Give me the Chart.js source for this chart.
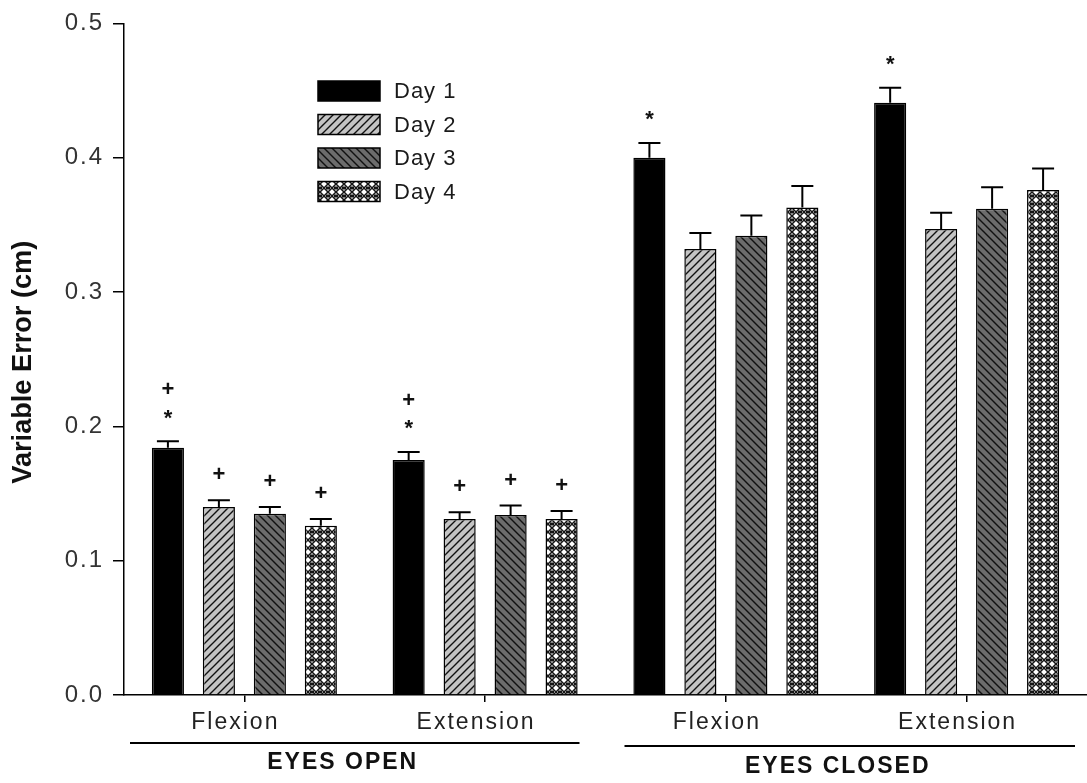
<!DOCTYPE html>
<html>
<head>
<meta charset="utf-8">
<script src="https://cdn.jsdelivr.net/npm/chart.js@4.4.1/dist/chart.umd.min.js"></script>
<style>
  html, body { margin: 0; padding: 0; background: #fff; }
  #wrap { width: 1087px; height: 783px; }
</style>
</head>
<body>
<div id="wrap"><canvas id="c" width="1087" height="783"></canvas></div>
<script>
// ---------------- data ----------------
const categories = ['Flexion', 'Extension', 'Flexion', 'Extension'];
const groupLabels = ['EYES OPEN', 'EYES CLOSED'];
const groupMembers = [[0, 1], [2, 3]];
const seriesNames = ['Day 1', 'Day 2', 'Day 3', 'Day 4'];
const day1 = [0.184, 0.175, 0.400, 0.441];
const day2 = [0.140, 0.131, 0.332, 0.347];
const day3 = [0.135, 0.134, 0.342, 0.362];
const day4 = [0.126, 0.131, 0.363, 0.376];
const err1 = [0.005, 0.006, 0.011, 0.011];
const err2 = [0.005, 0.005, 0.012, 0.012];
const err3 = [0.005, 0.007, 0.015, 0.016];
const err4 = [0.005, 0.006, 0.016, 0.016];
// significance marks above each bar, listed bottom to top
const marks1 = [['*', '+'], ['*', '+'], ['*'], ['*']];
const marks2 = [['+'], ['+'], [], []];
const marks3 = [['+'], ['+'], [], []];
const marks4 = [['+'], ['+'], [], []];
const yTitle = 'Variable Error (cm)';
const yMin = 0, yMax = 0.5, yStep = 0.1;

// ---------------- patterns ----------------
function makePattern(kind) {
  const s = 8;
  const c = document.createElement('canvas');
  c.width = s; c.height = s;
  const g = c.getContext('2d');
  if (kind === 'fwd') {
    g.fillStyle = '#c4c4c4'; g.fillRect(0, 0, s, s);
    g.strokeStyle = '#111'; g.lineWidth = 1.4;
    g.beginPath();
    g.moveTo(-1, s + 1); g.lineTo(s + 1, -1);
    g.moveTo(-1, 1); g.lineTo(1, -1);
    g.moveTo(s - 1, s + 1); g.lineTo(s + 1, s - 1);
    g.stroke();
  } else if (kind === 'back') {
    g.fillStyle = '#6c6c6c'; g.fillRect(0, 0, s, s);
    g.strokeStyle = '#111'; g.lineWidth = 1.4;
    g.beginPath();
    g.moveTo(-1, -1); g.lineTo(s + 1, s + 1);
    g.moveTo(s - 1, -1); g.lineTo(s + 1, 1);
    g.moveTo(-1, s - 1); g.lineTo(1, s + 1);
    g.stroke();
  } else {
    g.fillStyle = '#ffffff'; g.fillRect(0, 0, s, s);
    g.strokeStyle = '#151515'; g.lineWidth = 1.5;
    g.beginPath();
    g.moveTo(0, 0); g.lineTo(s, s);
    g.moveTo(s, 0); g.lineTo(0, s);
    g.stroke();
    g.fillStyle = '#151515';
    g.fillRect(0, s / 2 - 1.5, 2, 3);
    g.fillRect(s - 2, s / 2 - 1.5, 2, 3);
  }
  return document.createElement('canvas').getContext('2d').createPattern(c, 'repeat');
}

const fills = ['#000000', makePattern('fwd'), makePattern('back'), makePattern('check')];
const values = [day1, day2, day3, day4];
const errors = [err1, err2, err3, err4];
const marks = [marks1, marks2, marks3, marks4];

const FONT = "'Liberation Sans', Arial, sans-serif";

// ---------------- plugin ----------------
const decor = {
  id: 'decor',
  beforeDraw(chart) {
    chart.ctx.letterSpacing = '2px';
  },
  beforeDatasetsDraw(chart) {
    chart.ctx.letterSpacing = '0px';
  },
  afterDatasetsDraw(chart) {
    const ctx = chart.ctx;
    const y = chart.scales.y;
    ctx.save();
    ctx.letterSpacing = '0px';
    chart.data.datasets.forEach((ds, di) => {
      const meta = chart.getDatasetMeta(di);
      meta.data.forEach((bar, i) => {
        const top = y.getPixelForValue(ds.data[i]);
        const cap = y.getPixelForValue(ds.data[i] + errors[di][i]);
        ctx.strokeStyle = '#000';
        ctx.lineWidth = 2;
        ctx.beginPath();
        ctx.moveTo(bar.x, top);
        ctx.lineTo(bar.x, cap);
        ctx.moveTo(bar.x - 11, cap);
        ctx.lineTo(bar.x + 11, cap);
        ctx.stroke();
        ctx.fillStyle = '#111';
        ctx.font = 'bold 22px ' + FONT;
        ctx.textAlign = 'center';
        ctx.textBaseline = 'alphabetic';
        marks[di][i].forEach((m, k) => {
          const met = ctx.measureText(m);
          const cy = cap - 27 - 26 * k;
          const by = cy + (met.actualBoundingBoxAscent - met.actualBoundingBoxDescent) / 2;
          ctx.fillText(m, bar.x, by);
        });
      });
    });
    ctx.restore();
  },
  afterDraw(chart) {
    const ctx = chart.ctx;
    const x = chart.scales.x;
    const area = chart.chartArea;
    ctx.save();
    // legend
    const lx = 318, lw = 62, lh = 20, ly0 = 81, lstep = 33.5;
    chart.data.datasets.forEach((ds, di) => {
      const ty = ly0 + lstep * di;
      ctx.fillStyle = ds.backgroundColor;
      ctx.fillRect(lx, ty, lw, lh);
      ctx.strokeStyle = '#000';
      ctx.lineWidth = 1.5;
      ctx.strokeRect(lx, ty, lw, lh);
      ctx.fillStyle = '#1a1a1a';
      ctx.font = '22px ' + FONT;
      ctx.letterSpacing = '1px';
      ctx.textAlign = 'left';
      ctx.textBaseline = 'middle';
      ctx.fillText(ds.label, 394, ty + lh / 2 + 1);
    });
    // group labels
    const half = (x.getPixelForValue(1) - x.getPixelForValue(0)) / 2;
    const gLine = [{ a: 6, b: -26, ly: 743, ty: 763 }, { a: 19, b: -12, ly: 746, ty: 767 }];
    groupMembers.forEach((mem, gi) => {
      const left = x.getPixelForValue(mem[0]) - half + gLine[gi].a;
      const right = x.getPixelForValue(mem[mem.length - 1]) + half + gLine[gi].b;
      ctx.strokeStyle = '#000';
      ctx.lineWidth = 2;
      ctx.beginPath();
      ctx.moveTo(left, gLine[gi].ly);
      ctx.lineTo(right, gLine[gi].ly);
      ctx.stroke();
      ctx.fillStyle = '#111';
      ctx.font = 'bold 23px ' + FONT;
      ctx.letterSpacing = '2px';
      ctx.textAlign = 'center';
      ctx.textBaseline = 'middle';
      ctx.fillText(groupLabels[gi], (left + right) / 2 - 12, gLine[gi].ty);
    });
    // y title (condensed bold)
    ctx.letterSpacing = '0px';
    ctx.translate(23, (area.top + area.bottom) / 2 + 3);
    ctx.rotate(-Math.PI / 2);
    ctx.font = 'bold 28px ' + FONT;
    const w = ctx.measureText(yTitle).width;
    ctx.scale(243 / w, 1);
    ctx.fillStyle = '#111';
    ctx.textAlign = 'center';
    ctx.textBaseline = 'middle';
    ctx.fillText(yTitle, 0, 0);
    ctx.restore();
  }
};

// ---------------- chart ----------------
new Chart(document.getElementById('c'), {
  type: 'bar',
  data: {
    labels: categories,
    datasets: values.map((v, i) => ({
      label: seriesNames[i],
      data: v,
      backgroundColor: fills[i],
      borderColor: '#000',
      borderWidth: 1.5,
      categoryPercentage: 0.847,
      barPercentage: 0.63
    }))
  },
  options: {
    responsive: false,
    animation: false,
    events: [],
    layout: { padding: { top: 18, right: 0, left: 0, bottom: 0 } },
    plugins: { legend: { display: false }, tooltip: { enabled: false } },
    scales: {
      x: {
        offset: true,
        grid: { display: true, drawOnChartArea: false, offset: false, tickLength: 7, color: '#000', lineWidth: 1.5 },
        border: { display: true, color: '#000', width: 1.5 },
        ticks: { color: '#222', font: { family: FONT, size: 23 }, padding: 7, maxRotation: 0, labelOffset: -9 },
        afterFit(s) { s.height = 88; }
      },
      y: {
        min: yMin, max: yMax,
        grid: { display: true, drawOnChartArea: false, tickLength: 11, color: '#000', lineWidth: 1.5 },
        border: { display: true, color: '#000', width: 1.5 },
        ticks: {
          stepSize: yStep, color: '#333', padding: 9,
          font: { family: FONT, size: 24 },
          callback: v => Number(v).toFixed(1)
        },
        afterFit(s) { s.width = 124; }
      }
    }
  },
  plugins: [decor]
});
</script>
</body>
</html>
